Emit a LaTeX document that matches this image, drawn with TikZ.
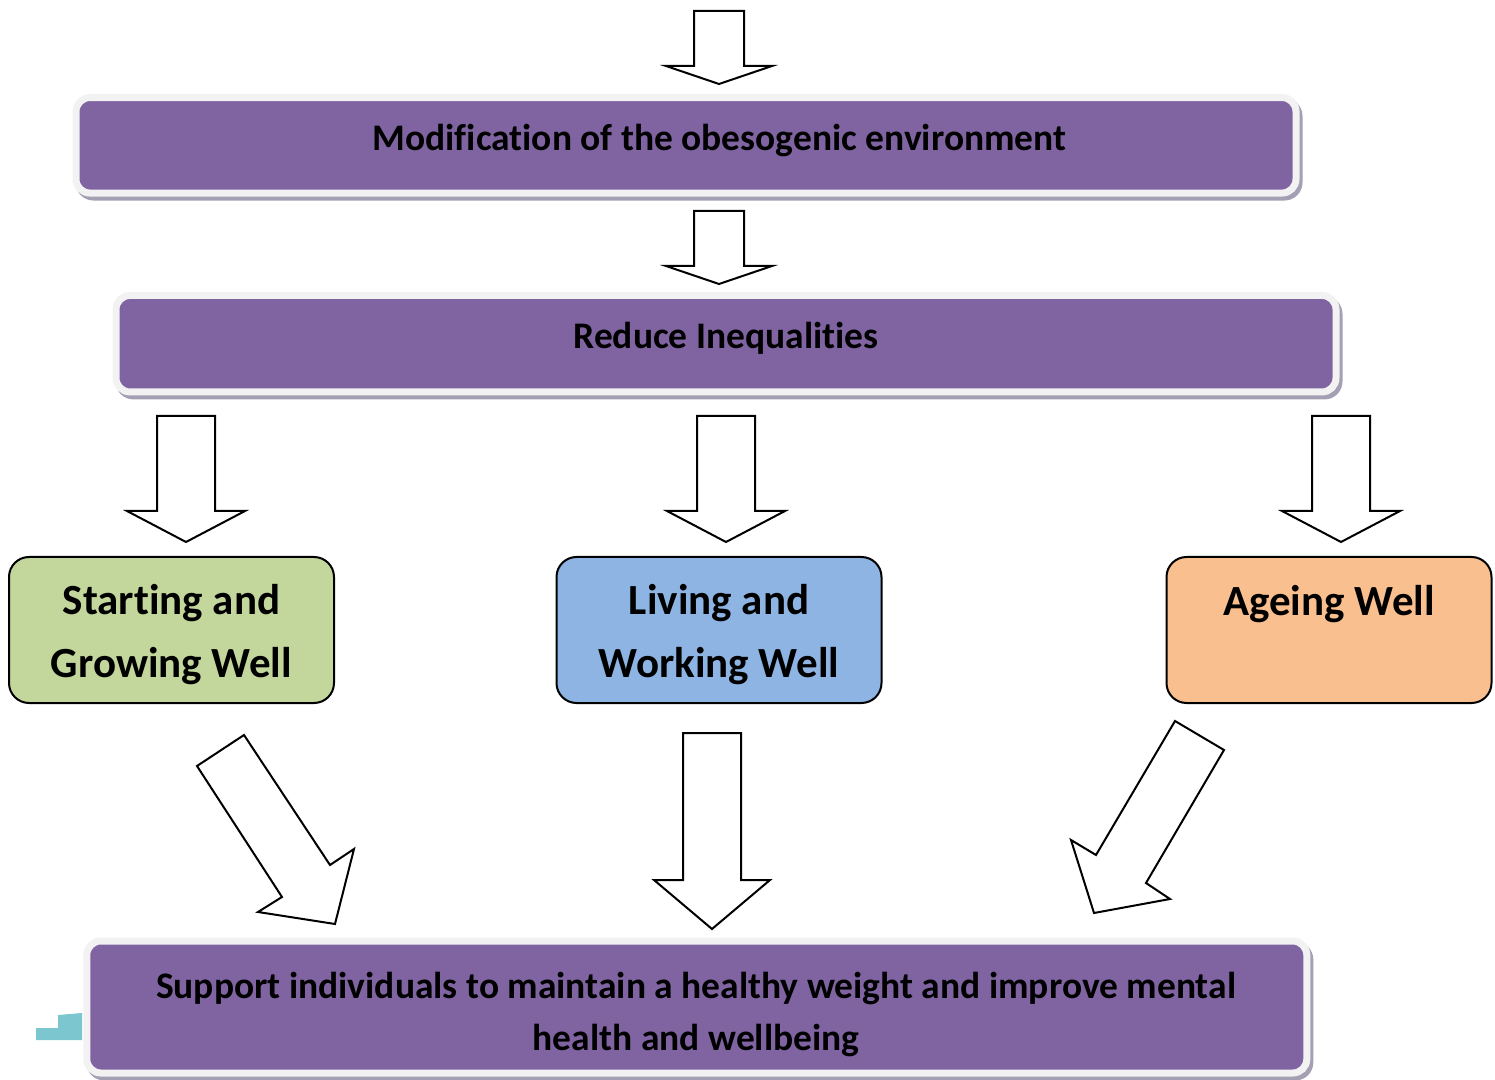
\documentclass[tikz,border=0pt]{standalone}
\usepackage{fontspec}
\setmainfont{Carlito}[Ligatures={NoCommon,NoContextual}]
\usetikzlibrary{calc,backgrounds}
\definecolor{barpurple}{HTML}{8064A2}
\definecolor{barframe}{HTML}{F2F2F2}
\definecolor{barshadow}{HTML}{A59FB3}
\definecolor{startgreen}{HTML}{C3D69B}
\definecolor{livingblue}{HTML}{8EB4E3}
\definecolor{ageorange}{HTML}{F9BF8F}
\definecolor{tealstep}{HTML}{7CC6CF}
\tikzset{
  bar/.style={draw=barframe, line width=3.5pt, fill=barpurple, rounded corners=7pt, inner sep=0pt, minimum width=610pt},
  bartext/.style={font=\fontsize{18.75pt}{26pt}\selectfont\bfseries, inner sep=0pt},
  stage/.style={draw=black, line width=1pt, rounded corners=10pt, minimum width=162.5pt, minimum height=73pt, inner sep=0pt},
  stagetext/.style={align=center, inner sep=0pt, font=\fontsize{21.5pt}{31.5pt}\selectfont\bfseries},
  blockarrow/.style={draw=black, fill=white, line width=1pt},
}
\begin{document}
\begin{tikzpicture}[x=0.5pt,y=-0.5pt]
\useasboundingbox (0,0) rectangle (1495,1080);
% purple bars
\node[bar, minimum height=47.75pt] (modbar) at (686,145.3) {};
\node[bar, minimum height=48.25pt] (reducebar) at (726,343.7) {};
\node[bar, minimum height=66pt] (supportbar) at (696.8,1007) {};
\begin{scope}[on background layer]
\foreach \b in {modbar,reducebar,supportbar}
  \fill[barshadow, rounded corners=9pt] ($(\b.south west)+(3,4)$) rectangle ($(\b.north east)+(3,4)$);
\end{scope}
\node[bartext, anchor=base] (modtext) at (719.5,151) {Modification of the obesogenic environment};
\node[bartext, anchor=base] (reducetext) at (726,349) {Reduce Inequalities};
\node[bartext, align=center] (supporttext) at (696,1015) {Support individuals to maintain a healthy weight and improve mental\\health and wellbeing};
\fill[tealstep] (36,1028) -- (58,1028) -- (58,1015) -- (82,1013) -- (82,1040) -- (36,1040) -- cycle;
% life stages
\node[stage, fill=startgreen, label={[stagetext, yshift=-2.5pt]center:Starting and\\Growing Well}] (starting) at (171.5,630) {};
\node[stage, fill=livingblue, label={[stagetext, yshift=-2.5pt]center:Living and\\Working Well}] (living) at (719,630) {};
\node[stage, fill=ageorange, label={[stagetext, anchor=base, yshift=13pt]center:Ageing Well}] (ageing) at (1329,630) {};
% block arrows
\foreach \y in {11,211}
  \draw[blockarrow] (694,\y) -- (744,\y) -- (744,\y+55) -- (772,\y+55) -- (719,\y+73) -- (666,\y+55) -- (694,\y+55) -- cycle;
\foreach \x in {186,726,1341}
  \draw[blockarrow] (\x-29,416) -- (\x+29,416) -- (\x+29,511) -- (\x+59,511) -- (\x,542) -- (\x-59,511) -- (\x-29,511) -- cycle;
\draw[blockarrow] (683,733) -- (741,733) -- (741,880) -- (770,880) -- (712,929) -- (654,880) -- (683,880) -- cycle;
\draw[blockarrow] (197,766) -- (244,735) -- (330,865) -- (354,849) -- (335,924) -- (258,912) -- (282,897) -- cycle;
\draw[blockarrow] (1175,721) -- (1224,750) -- (1146,883) -- (1170,899) -- (1094,913) -- (1071,840) -- (1096,855) -- cycle;
\end{tikzpicture}
\end{document}
